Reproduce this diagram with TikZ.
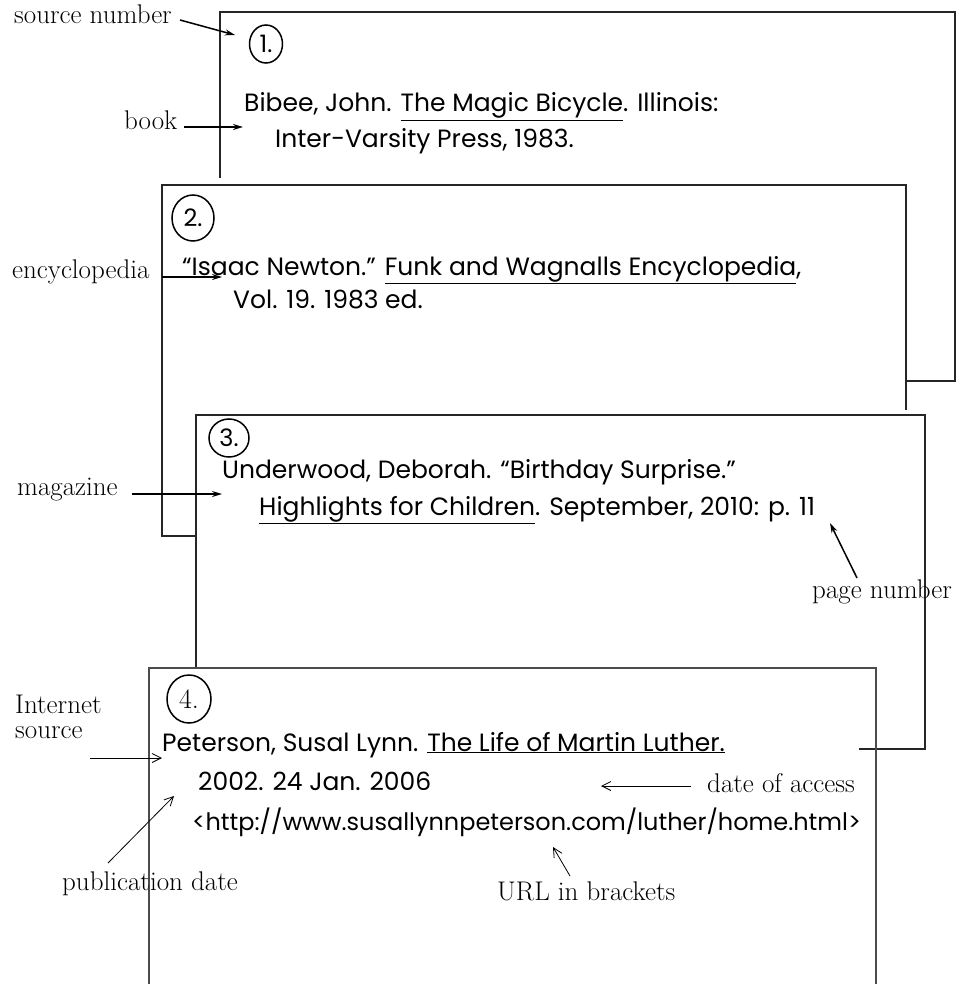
\documentclass[tikz,border=0pt]{standalone}
\usepackage{fontspec}
\newfontfamily\handfont{Poppins}
\usetikzlibrary{arrows.meta, shapes.geometric}
\tikzset{
  card/.style={line width=2pt, black!85},
  lastcard/.style={line width=1.3pt, black!70},
  entry/.style={font=\handfont\fontsize{25}{29}\selectfont, anchor=base west, inner sep=0pt},
  lbl/.style={font=\fontsize{27}{25}\selectfont, anchor=base west, inner sep=0pt, align=left},
  num/.style={draw, ellipse, line width=1.5pt, inner sep=0pt, font=\handfont\fontsize{24}{25}\selectfont},
  arr/.style={-{Stealth[length=10pt, width=6pt]}, line width=1.5pt},
  thinarr/.style={-{Straight Barb[length=9pt, width=9pt]}, line width=0.8pt},
}

\begin{document}
\begin{tikzpicture}[x=1pt, y=-1pt]
    \useasboundingbox (0,0) rectangle (961,984);
    % the four cards, back to front
    \draw[card] (220,178) -- (220,12) -- (955,12) -- (955,381) -- (906,381);
    \draw[card] (196,536) -- (162,536) -- (162,185) -- (906,185) -- (906,410);
    \draw[card] (196,668) -- (196,415) -- (925,415) -- (925,749) -- (859,749);
    \draw[lastcard] (149,984) -- (149,668) -- (876,668) -- (876,984);

    % source numbers
    \node[num, minimum width=33, minimum height=38] (n1) at (266,44) {1.};
    \node[num, minimum width=42, minimum height=46] (n2) at (193,218) {2.};
    \node[num, minimum width=40, minimum height=38] (n3) at (229,438) {3.};
    \node[num, minimum width=44, minimum height=48, font=\fontsize{28}{25}\selectfont] (n4) at (189,699) {4.};

    % entries
    \node[entry] (b1) at (244,112) {Bibee, John. \underline{The Magic Bicycle}. Illinois:};
    \node[entry] (b2) at (275,148) {Inter-Varsity Press, 1983.};
    \node[entry] (e1) at (182,275) {“Isaac Newton.” \underline{Funk and Wagnalls Encyclopedia},};
    \node[entry] (e2) at (233,308) {Vol. 19. 1983 ed.};
    \node[entry] (m1) at (222,478) {Underwood, Deborah. “Birthday Surprise.”};
    \node[entry] (m2) at (259,515) {\underline{Highlights for Children}. September, 2010: p. 11};
    \node[entry] (w1) at (162,751) {Peterson, Susal Lynn. \underline{The Life of Martin Luther.}};
    \node[entry] (w2) at (198,790) {2002. 24 Jan. 2006};
    \node[entry, font=\handfont\fontsize{24}{29}\selectfont] (w3) at (192,830) {<http://www.susallynnpeterson.com/luther/home.html>};

    % labels
    \node[lbl] (srcnum) at (14,24) {source number};
    \node[lbl] (book) at (124,130) {book};
    \node[lbl] (ency) at (12,278) {encyclopedia};
    \node[lbl] (mag) at (17,495) {magazine};
    \node[lbl] (pagenum) at (812,598) {page number};
    \node[lbl] (inet) at (15,738) {Internet\\source};
    \node[lbl] (pubdate) at (62,890) {publication date};
    \node[lbl] (access) at (707,792) {date of access};
    \node[lbl] (url) at (497,900) {URL in brackets};

    % arrow ends
    \coordinate (srcS) at (180,20);
    \coordinate (srcT) at (235,35);
    \coordinate (bookS) at (184,127);
    \coordinate (bookT) at (243,127);
    \coordinate (encyS) at (162,277);
    \coordinate (encyT) at (222,277);
    \coordinate (magS) at (132,494);
    \coordinate (magT) at (222,494);
    \coordinate (pageS) at (857,578);
    \coordinate (pageT) at (830,523);
    \coordinate (inetS) at (90,758);
    \coordinate (inetT) at (162,758);
    \coordinate (pubS) at (108,863);
    \coordinate (pubT) at (174,796);
    \coordinate (accessS) at (691,786);
    \coordinate (accessT) at (601,786);
    \coordinate (urlS) at (570,876);
    \coordinate (urlT) at (553,847);

    \draw[arr] (srcS) -- (srcT);
    \draw[arr] (bookS) -- (bookT);
    \draw[arr] (encyS) -- (encyT);
    \draw[arr] (magS) -- (magT);
    \draw[arr] (pageS) -- (pageT);
    \draw[thinarr] (inetS) -- (inetT);
    \draw[thinarr] (pubS) -- (pubT);
    \draw[thinarr] (accessS) -- (accessT);
    \draw[thinarr] (urlS) -- (urlT);
\end{tikzpicture}
\end{document}
